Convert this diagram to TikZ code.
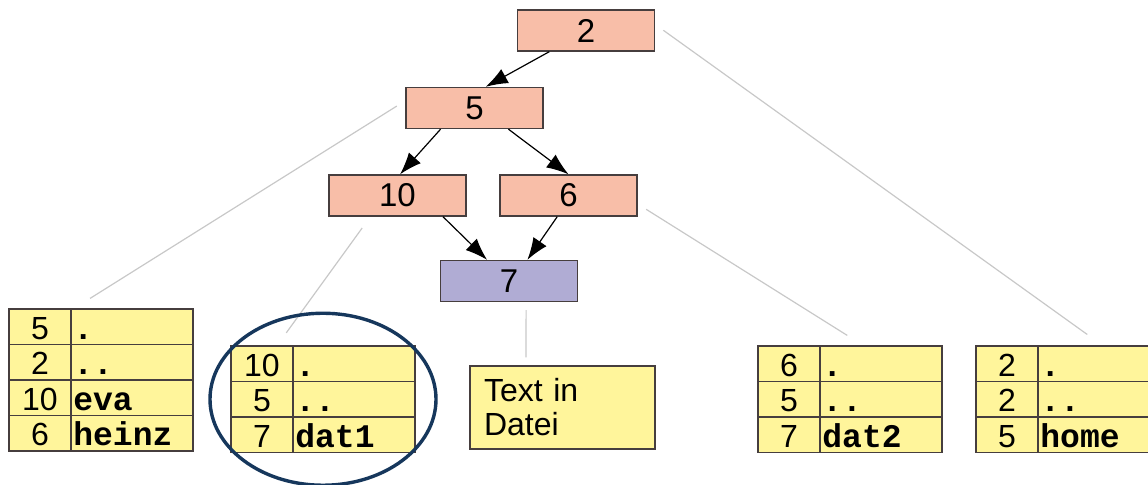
\documentclass[tikz,border=0pt]{standalone}
\usepackage{fontspec}
\setmainfont{Liberation Sans}
\setmonofont{Liberation Mono}
\usetikzlibrary{arrows.meta,matrix}
\definecolor{knotfill}{RGB}{248,190,168}
\definecolor{leaffill}{RGB}{176,172,212}
\definecolor{tabfill}{RGB}{255,245,155}
\definecolor{rimgray}{RGB}{70,62,62}
\definecolor{linkgray}{RGB}{200,200,200}
\definecolor{ringblue}{RGB}{22,55,92}

\begin{document}
\begin{tikzpicture}[x=0.5pt,y=-0.5pt,
		knot/.style={draw=rimgray,fill=knotfill,line width=0.7pt,minimum width=68.5pt,minimum height=20.5pt,inner sep=0pt,font=\fontsize{16.5}{19}\selectfont},
		ptr/.style={-{Latex[length=11pt,width=8pt]},line width=0.6pt},
		link/.style={linkgray,line width=0.6pt,shorten <=5pt,shorten >=9pt},
		dir/.style={matrix of nodes,anchor=north west,inner sep=0pt,row sep=-0.6pt,column sep=-0.6pt,
			nodes={draw=rimgray,fill=tabfill,line width=0.6pt,minimum height=17.75pt,inner sep=0pt,text height=13pt,text depth=0.7pt},
			column 1/.style={nodes={minimum width=31pt,font=\fontsize{16}{18}\selectfont}},
			column 2/.style={nodes={text width=58.6pt,inner xsep=1.2pt,align=left,font=\fontsize{16.5}{18}\selectfont\ttfamily\bfseries}}}]
	\useasboundingbox (0,0) rectangle (1148,485);

	% inode tree
	\node[knot] (n2) at (586,30.5) {2};
	\node[knot] (n5) at (474.5,108) {5};
	\node[knot] (n10) at (397.5,195.5) {10};
	\node[knot] (n6) at (568.5,195.5) {6};
	\node[knot,fill=leaffill] (n7) at (509,281) {7};

	% directory blocks
	\matrix[dir] (t1) at (8,308) {5 & . \\ 2 & .. \\ 10 & eva \\ 6 & heinz \\};
	\matrix[dir] (t2) at (230,345) {10 & . \\ 5 & .. \\ 7 & dat1 \\};
	\node[draw=rimgray,fill=tabfill,line width=0.6pt,minimum height=41.5pt,text width=78.5pt,inner xsep=7pt,inner ysep=0pt,align=left,font=\fontsize{16}{17}\selectfont] (tx) at (562.5,407.5) {Text in\\Datei};
	\matrix[dir] (t3) at (757,345) {6 & . \\ 5 & .. \\ 7 & dat2 \\};
	\matrix[dir] (t4) at (975,345) {2 & . \\ 2 & .. \\ 5 & home \\};

	\draw[link] (n5.174) -- (t1.110);
	\draw[link] (n2.5) -- (t4.58);
	\draw[link,shorten <=7pt,shorten >=7.5pt] (n10.218) -- (t2.130);
	\draw[link] (n6.353) -- (t3.77);
	\draw[link,shorten <=4pt,shorten >=4pt] (n7.309) -- (tx.131);

	\draw[ptr] (n2.210) -- (n5.62);
	\draw[ptr] (n5.212) -- (n10.83);
	\draw[ptr] (n5.328) -- (n6.north);
	\draw[ptr] (n10.335) -- (n7.136);
	\draw[ptr] (n6.242) -- (n7.49);

%	\draw[ptr] (n7) -- (tx);
	\draw[ringblue,line width=1.7pt] (t2.center) ellipse [x radius=56.5pt,y radius=43pt];
\end{tikzpicture}
\end{document}
